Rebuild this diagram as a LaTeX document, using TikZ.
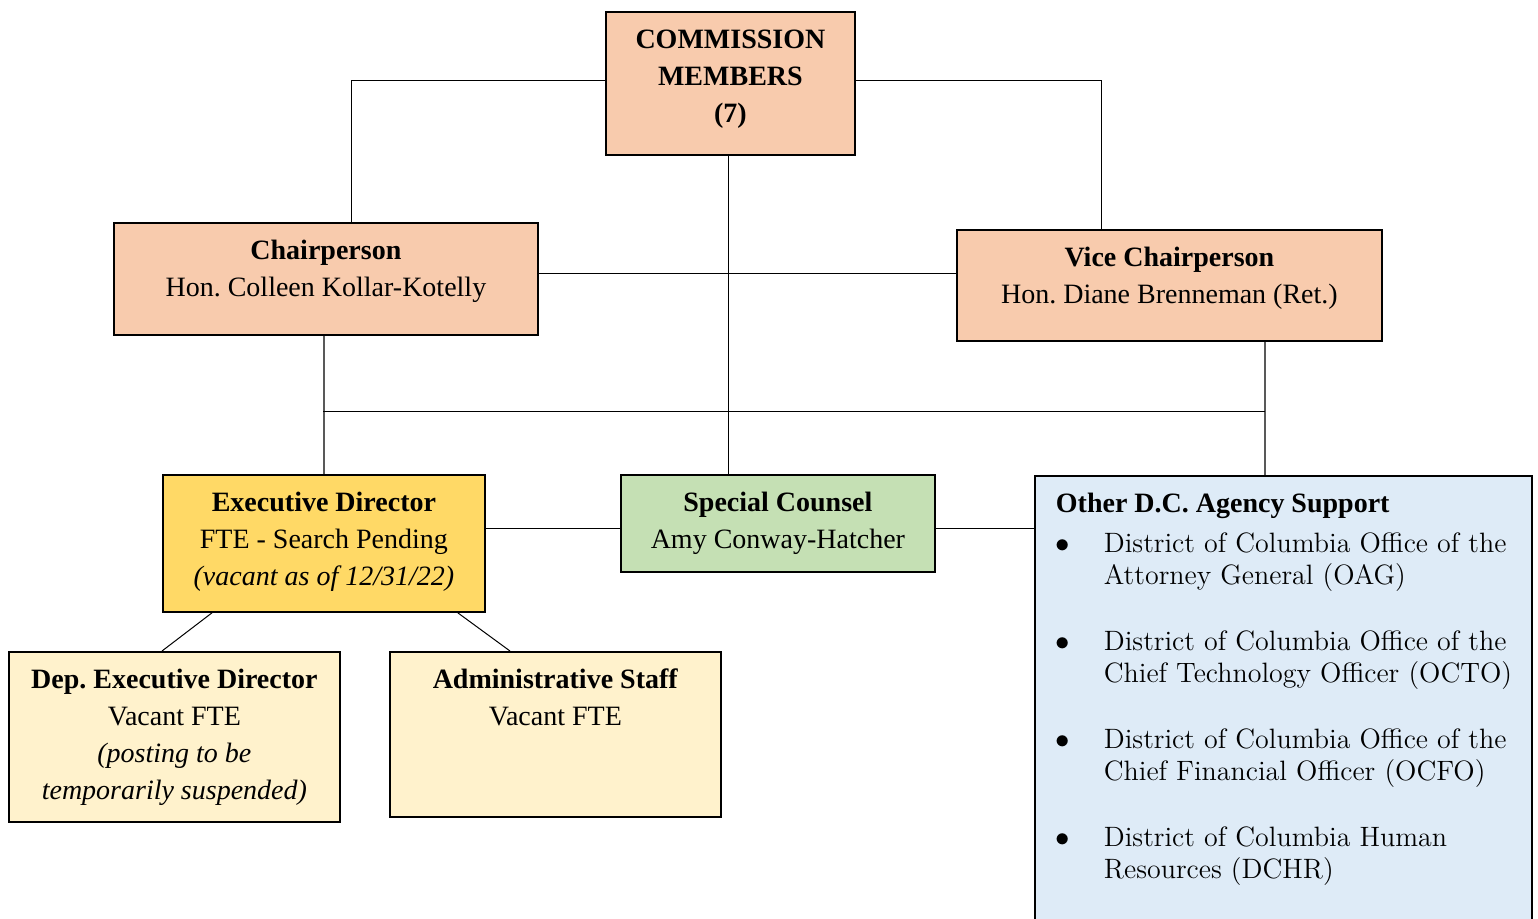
\documentclass[tikz,border=0pt]{standalone}
\usepackage{fontspec}
\usepackage{tikz}
\newfontfamily\timesfont{Liberation Serif}

\definecolor{peach}{HTML}{F8CBAD}
\definecolor{gold}{HTML}{FFD966}
\definecolor{cream}{HTML}{FFF2CC}
\definecolor{sage}{HTML}{C5E0B4}
\definecolor{skyblue}{HTML}{DEEBF7}

\frenchspacing

% box text: width, height, lines (top aligned, centred)
\newcommand{\boxtext}[3]{\parbox[c][#2][t]{#1}{\centering\vspace*{5.5pt}\strut#3}}
% one agency entry of two lines
\newcommand{\agency}[2]{\hangindent=24pt\hangafter=1\noindent\makebox[24pt][l]{$\bullet$}#1\newline#2\par}

\begin{document}
\begin{tikzpicture}[x=0.5pt, y=-0.5pt, line width=0.5pt,
  font=\timesfont\fontsize{14}{18.5}\selectfont,
  unit/.style={draw=black, line width=0.9pt, inner sep=0pt, anchor=north west},
  drop/.style={draw=black!65, line width=1pt}]

\useasboundingbox (0,0) rectangle (1538,918);
\clip (0,0) rectangle (1538,918);

% draw boxes
\node[unit, fill=peach] (comm) at (605,11)
  {\boxtext{124.5pt}{71.5pt}{\textbf{COMMISSION}\\\textbf{MEMBERS}\\\textbf{(7)}}};
\node[unit, fill=peach] (chair) at (113,222)
  {\boxtext{212pt}{56pt}{\textbf{Chairperson}\\Hon. Colleen Kollar-Kotelly}};
\node[unit, fill=peach] (vice) at (956,229)
  {\boxtext{212.5pt}{55.5pt}{\textbf{Vice Chairperson}\\Hon. Diane Brenneman (Ret.)}};
\node[unit, fill=gold] (exec) at (162,474)
  {\boxtext{161pt}{68.5pt}{\textbf{Executive Director}\\FTE - Search Pending\\\textit{(vacant as of 12/31/22)}}};
\node[unit, fill=sage] (spec) at (620,474)
  {\boxtext{157pt}{48.5pt}{\textbf{Special Counsel}\\Amy Conway-Hatcher}};
\node[unit, fill=cream] (dep) at (8,651)
  {\boxtext{165.5pt}{85pt}{\textbf{Dep. Executive Director}\\Vacant FTE\\\textit{(posting to be}\\\textit{temporarily suspended)}}};
\node[unit, fill=cream] (admin) at (389,651)
  {\boxtext{165.5pt}{82.5pt}{\textbf{Administrative Staff}\\Vacant FTE}};
\node[unit, fill=skyblue] (other) at (1034,475)
  {\parbox[c][232.5pt][t]{248.5pt}{\raggedright\leftskip=10.5pt
    \vspace*{5.5pt}\strut\textbf{Other D.C. Agency Support}\par
    \vspace{4pt}
    {\rmfamily\fontsize{14}{16}\selectfont
    \agency{District of Columbia Office of the}{Attorney General (OAG)}
    \vspace{17pt}
    \agency{District of Columbia Office of the}{Chief Technology Officer (OCTO)}
    \vspace{17pt}
    \agency{District of Columbia Office of the}{Chief Financial Officer (OCFO)}
    \vspace{17pt}
    \agency{District of Columbia Human}{Resources (DCHR)}}}};

% draw commission links
\coordinate (cw) at ([yshift=1.25pt]comm.west);
\coordinate (ce) at ([yshift=1.25pt]comm.east);
\draw (cw) -| ([xshift=13pt]chair.north);
\draw (ce) -| ([xshift=-33.75pt]vice.north);
\draw ([xshift=-0.75pt]comm.south) -- ([xshift=-0.75pt]comm.south |- spec.north);

% draw chair to vice chair
\coordinate (cv) at ([yshift=2.5pt]chair.east);
\draw (cv) -- (cv -| vice.west);

% draw drops and bus
\coordinate (vs) at ([xshift=47.75pt]vice.south);
\draw[drop] (exec.north |- chair.south) -- (exec.north);
\draw[drop] (vs) -- (vs |- other.north);
\coordinate (busL) at (323,411);
\coordinate (busR) at (vs |- busL);
\draw (busL) -- (busR);

% draw side links
\coordinate (mid) at ([yshift=7.25pt]exec.east);
\draw (mid) -- (mid -| spec.west);
\draw (mid -| spec.east) -- (mid -| other.west);

% draw staff links
\draw ([xshift=25pt]exec.south west) -- ([xshift=77pt]dep.north west);
\draw ([xshift=-14pt]exec.south east) -- ([xshift=60.5pt]admin.north west);

\end{tikzpicture}
\end{document}
